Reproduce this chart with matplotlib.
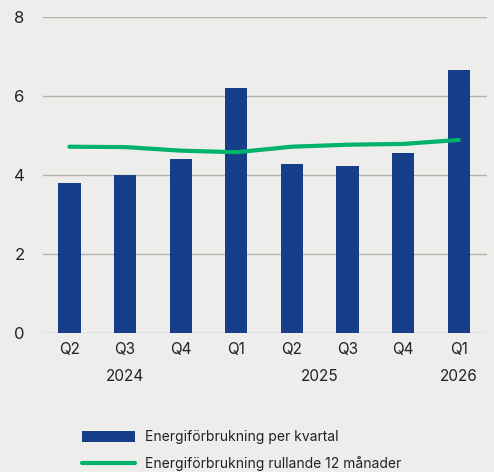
import matplotlib
matplotlib.use("Agg")
import matplotlib.pyplot as plt
from matplotlib.lines import Line2D
from matplotlib.patches import Patch

# ------------------------------------------------------ DATA --------------------------------------------

quarters = ["Q2", "Q3", "Q4", "Q1", "Q2", "Q3", "Q4", "Q1"]
per_kvartal = [3.81, 4.00, 4.42, 6.20, 4.29, 4.23, 4.55, 6.65]
rullande_12 = [4.72, 4.71, 4.62, 4.58, 4.72, 4.77, 4.79, 4.89]
years = ["2024", "2025", "2026"]
year_pos = [1, 4.5, 7]
yticks = [0, 2, 4, 6, 8]

BG = "#ededeb"
BLUE = "#173e88"
GREEN = "#00b26b"
GRID = "#b4b4ac"
TXT = "#222222"

plt.rcParams['font.family'] = ['Inter', 'DejaVu Sans']

# ------------------------------------------------------ PLOT --------------------------------------------

fig = plt.figure(figsize=(4.94, 4.72), dpi=100, facecolor=BG)
ax = fig.add_axes([0.0864, 0.2938, 0.8988, 0.6702], facecolor=BG)

x = list(range(len(quarters)))
ax.bar(x, per_kvartal, width=0.4, color=BLUE, zorder=2)
ax.plot(x, rullande_12, color=GREEN, linewidth=3, solid_capstyle='round', zorder=3)

ax.set_xlim(-0.48, 7.5)
ax.set_ylim(0, 8)
ax.set_yticks(yticks)
ax.set_xticks(x)
ax.set_xticklabels(quarters)
ax.yaxis.grid(True, color=GRID, linewidth=1, zorder=0)
ax.set_axisbelow(True)
for s in ax.spines.values():
    s.set_visible(False)
ax.tick_params(axis='y', length=0, pad=13, labelsize=12, labelcolor=TXT)
ax.tick_params(axis='x', length=0, pad=6, labelsize=11, labelcolor=TXT)

# year labels under the quarter ticks
for pos, yr in zip(year_pos, years):
    ax.text(pos, -0.137, yr, transform=ax.get_xaxis_transform(), ha='center', va='center',
            fontsize=11, color=TXT)

handles = [Patch(facecolor=BLUE, edgecolor='none'),
           Line2D([0], [0], color=GREEN, linewidth=3, solid_capstyle='round')]
labels = ["Energiförbrukning per kvartal", "Energiförbrukning rullande 12 månader"]
fig.legend(handles, labels, loc='upper left', bbox_to_anchor=(0.155, 0.1), frameon=False,
           fontsize=10, handlelength=3.8, handleheight=0.9, handletextpad=0.7,
           labelspacing=0.85, borderaxespad=0, labelcolor=TXT)

fig.savefig("out.png", dpi=100, facecolor=BG)
